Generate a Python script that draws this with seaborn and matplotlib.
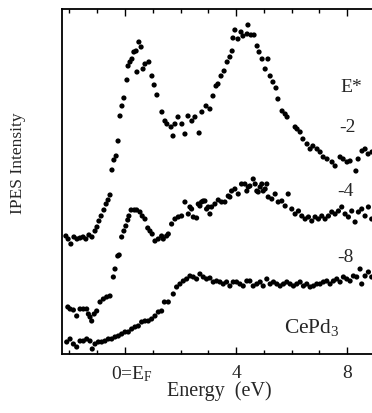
import numpy as np
import pandas as pd
import matplotlib
matplotlib.use("Agg")
import matplotlib.pyplot as plt
import matplotlib.transforms as mtransforms
import seaborn as sns
from matplotlib.ticker import MultipleLocator

# ---- data (energy in eV, intensity in arbitrary units) ----
e_m2 = [-2.13,-2.05,-1.95,-1.84,-1.73,-1.62,-1.51,-1.41,-1.30,-1.19,-1.08,-1.01,-0.94,-0.86,-0.76,
        -0.68,-0.61,-0.54,-0.47,-0.40,-0.32,-0.25,-0.18,-0.11,-0.04,0.07,0.11,0.18,0.25,0.32,
        0.40,0.43,0.50,0.58,0.65,0.72,0.86,0.97,1.05,1.15,1.33,1.44,1.51,1.66,1.73,
        1.80,1.91,2.05,2.16,2.27,2.41,2.52,2.67,2.77,2.92,3.06,3.17,3.28,3.35,3.46,
        3.57,3.68,3.78,3.86,3.89,3.96,4.07,4.18,4.25,4.40,4.43,4.54,4.65,4.76,4.83,
        4.94,5.05,5.15,5.23,5.33,5.44,5.51,5.66,5.77,5.84,6.13,6.20,6.31,6.41,6.56,
        6.67,6.77,6.92,7.03,7.14,7.28,7.46,7.57,7.75,7.86,8.00,8.11,8.32,8.40,8.54,
        8.65,8.76,8.90]
i_m2 = [118,115,110,117,115,116,117,115,119,117,123,127,133,138,144,
        150,154,159,184,194,198,213,238,248,256,274,288,292,295,302,
        303,282,312,307,285,290,292,278,269,259,242,233,230,227,218,
        230,237,230,220,238,233,237,221,242,248,245,258,268,270,278,
        283,292,297,303,316,324,315,322,318,320,329,319,319,308,302,
        295,285,295,278,272,266,255,243,240,237,227,225,222,215,210,
        205,208,205,202,197,195,192,188,197,195,192,193,183,195,203,
        205,200,202]

e_m4 = [-2.06,-1.98,-1.86,-1.74,-1.62,-1.50,-1.38,-1.32,-1.26,-1.20,-1.11,-1.02,-0.90,-0.78,-0.66,
        -0.54,-0.42,-0.36,-0.26,-0.21,-0.12,-0.04,0.03,0.10,0.14,0.22,0.34,0.42,0.54,0.62,
        0.72,0.82,0.90,0.98,1.08,1.20,1.32,1.38,1.50,1.56,1.68,1.80,1.92,2.04,2.16,
        2.28,2.34,2.40,2.46,2.58,2.64,2.70,2.76,2.82,2.88,2.94,3.00,3.06,3.12,3.24,
        3.36,3.48,3.60,3.72,3.78,3.84,3.96,4.08,4.20,4.32,4.39,4.44,4.50,4.62,4.69,
        4.75,4.80,4.87,4.93,4.98,5.05,5.11,5.16,5.29,5.41,5.52,5.65,5.77,5.88,6.01,
        6.13,6.25,6.37,6.49,6.61,6.73,6.85,6.97,7.09,7.21,7.33,7.45,7.57,7.69,7.81,
        7.93,8.05,8.17,8.29,8.41,8.53,8.65,8.77,8.89]
i_m4 = [47,45,44,38,45,45,45,40,37,33,40,43,52,55,57,
        58,77,85,98,99,117,123,128,134,138,144,144,144,142,138,
        135,126,123,120,113,115,118,115,118,120,130,135,137,138,152,
        140,147,145,137,136,150,148,152,153,153,145,147,140,147,150,
        154,152,152,158,157,163,165,160,170,170,163,167,168,175,170,
        163,162,167,170,163,165,170,157,155,160,152,153,148,160,145,
        140,143,138,135,137,133,137,135,138,135,138,142,140,143,147,
        140,137,143,132,142,145,138,147,135]

e_m8 = [-2.10,-1.98,-1.86,-1.74,-1.62,-1.50,-1.38,-1.26,-1.18,-1.08,-0.96,-0.84,-0.72,-0.60,-0.48,
        -0.36,-0.24,-0.12,0.00,0.12,0.24,0.36,0.48,0.60,0.72,0.84,0.96,1.08,1.20,1.32,
        1.42,1.56,1.74,1.86,1.98,2.10,2.22,2.34,2.46,2.58,2.70,2.82,2.94,3.06,3.18,
        3.30,3.42,3.54,3.66,3.78,3.90,4.02,4.14,4.26,4.39,4.50,4.62,4.75,4.87,4.98,
        5.11,5.23,5.35,5.47,5.59,5.71,5.83,5.95,6.07,6.19,6.31,6.43,6.55,6.67,6.79,
        6.91,7.03,7.15,7.27,7.39,7.51,7.63,7.75,7.87,7.99,8.11,8.23,8.35,8.47,8.53,
        8.65,8.77,8.89]
i_m8 = [12,15,10,7,13,13,15,13,5,10,12,12,13,15,15,
        17,18,20,22,22,25,27,28,32,33,33,35,38,42,43,
        52,52,60,67,70,73,75,78,77,75,80,77,75,76,72,
        73,72,70,72,68,72,72,70,68,73,73,68,70,72,68,
        75,70,72,70,68,70,72,70,68,70,72,68,70,67,68,
        70,70,72,73,70,73,75,72,77,75,73,78,77,85,70,
        78,82,77]

curve_labels = ["-2", "-4", "-8"]
tick_vals = [0, 4, 8]
tick_labels = [r"0=E$_\mathregular{F}$", "4", "8"]

df = pd.concat([
    pd.DataFrame({"energy": e_m2, "intensity": i_m2, "E*": "-2"}),
    pd.DataFrame({"energy": e_m4, "intensity": i_m4, "E*": "-4"}),
    pd.DataFrame({"energy": e_m8, "intensity": i_m8, "E*": "-8"}),
], ignore_index=True)

sns.set_theme(style="ticks")
plt.rcParams['font.family'] = ['Liberation Serif', 'DejaVu Serif']
plt.rcParams['mathtext.fontset'] = 'custom'
plt.rcParams['mathtext.rm'] = 'Liberation Serif'
plt.rcParams['mathtext.it'] = 'Liberation Serif:italic'

W, H = 372, 414
fig = plt.figure(figsize=(W/100, H/100), dpi=100)
ax = fig.add_axes([62/W, 59/H, 1 - 62/W, 345/H])

sns.scatterplot(data=df, x="energy", y="intensity", hue="E*",
                palette=["black", "black", "black"], s=14, linewidth=0,
                legend=False, ax=ax)

ax.set_xlim(-2.27, 8.9)
ax.set_ylim(0, 345)
ax.set_xticks(tick_vals)
ax.set_xticklabels(tick_labels, fontsize=14)
ax.xaxis.set_minor_locator(MultipleLocator(1))
ax.tick_params(axis='x', which='both', direction='in', top=True, bottom=True,
               color='black', pad=7)
ax.tick_params(axis='x', which='major', length=5, width=1)
ax.tick_params(axis='x', which='minor', length=3, width=1)
ax.set_yticks([])
ax.spines['right'].set_visible(False)
for s in ['left', 'top', 'bottom']:
    ax.spines[s].set_linewidth(1.3)
    ax.spines[s].set_color('black')

# shift the "0=E_F" label slightly right as in the reference
lbl0 = ax.get_xticklabels()[0]
lbl0.set_transform(lbl0.get_transform() +
                   mtransforms.ScaledTranslation(7/100, 0, fig.dpi_scale_trans))

ax.set_xlabel("Energy  (eV)", fontsize=14.5)
ax.xaxis.set_label_coords((219.5 - 62) / 310, -0.076)
ax.set_ylabel("IPES Intensity", fontsize=12.5, va='center')
ax.yaxis.set_label_coords(-0.142, 0.555)

ax.text(8.14, 267, "E*", fontsize=14, ha='center', va='center')
ax.text(8.0, 228, curve_labels[0], fontsize=14, ha='center', va='center')
ax.text(7.96, 163, curve_labels[1], fontsize=14, ha='center', va='center')
ax.text(7.96, 98, curve_labels[2], fontsize=14, ha='center', va='center')
ax.text(6.72, 27, r"CePd$_\mathregular{3}$", fontsize=15.5, ha='center', va='center')

fig.savefig("out.png", dpi=100)
